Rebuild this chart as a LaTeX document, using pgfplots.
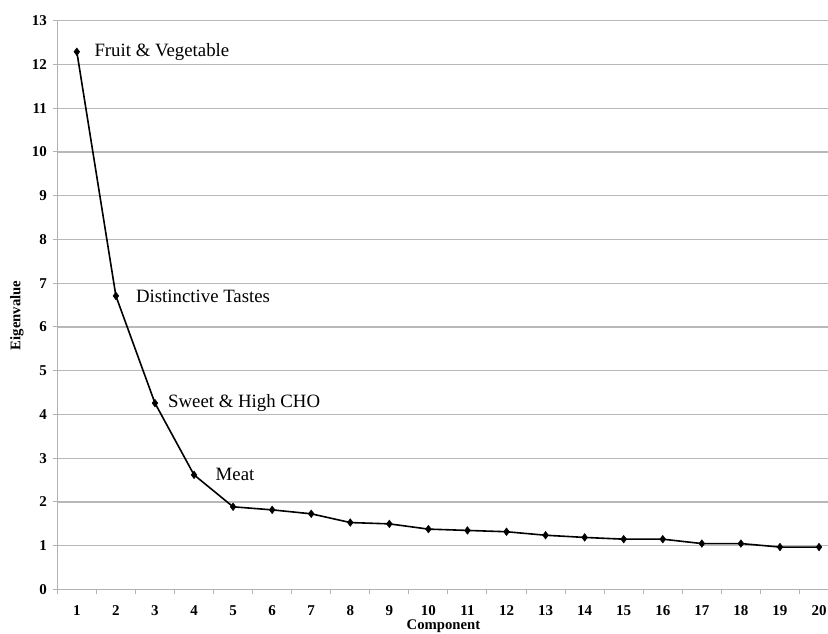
\documentclass[border=0pt]{standalone}
\usepackage{pgfplots}
\pgfplotsset{compat=1.18}
\usepackage{fontspec}
\setmainfont{Liberation Serif}
\begin{document}
\begin{tikzpicture}
\begin{axis}[
  at={(0,0)}, anchor=south west,
  scale only axis, width=770.7pt, height=568.8pt,
  xmin=0.5, xmax=20.23, ymin=0, ymax=13,
  clip=false,
  xtick={1,...,20}, ytick={0,...,13},
  minor xtick={0.5,1.5,...,19.5},
  axis x line*=bottom, axis y line*=left,
  axis line style={draw=black!30, line width=1.2pt, -},
  ymajorgrids, grid style={draw=black!28, line width=1.2pt},
  tick align=outside, major tick length=4pt, minor tick length=5pt,
  tick style={draw=black!30, line width=1pt},
  major x tick style={draw=none},
  /pgf/number format/assume math mode=true,
  ticklabel style={font=\fontsize{15}{16}\selectfont\bfseries},
  yticklabel style={xshift=-3pt},
  xticklabel style={anchor=base, yshift=-22pt},
  label style={font=\fontsize{14.7}{16}\selectfont\bfseries},
  xlabel={Component}, ylabel={Eigenvalue},
  xlabel style={at={(axis description cs:0.501,0)}, anchor=center, yshift=-36.5pt},
  ylabel style={at={(axis description cs:0,0.482)}, anchor=center, yshift=40.3pt},
]
\addplot[black, line width=1.6pt, mark=diamond*, mark size=3.8pt, mark options={solid, line width=0.5pt}] coordinates {
(1,12.29) (2,6.71) (3,4.26) (4,2.62) (5,1.89) (6,1.82) (7,1.73) (8,1.53)
(9,1.50) (10,1.38) (11,1.35) (12,1.32) (13,1.24) (14,1.19) (15,1.15)
(16,1.15) (17,1.05) (18,1.05) (19,0.97) (20,0.97)};
\node[anchor=west, inner sep=0pt, font=\fontsize{18.8}{20}\selectfont] at (axis cs:1,12.29) [xshift=17.5pt] {Fruit \& Vegetable};
\node[anchor=west, inner sep=0pt, font=\fontsize{18.8}{20}\selectfont] at (axis cs:2,6.71) [xshift=20pt] {Distinctive Tastes};
\node[anchor=west, inner sep=0pt, font=\fontsize{18.8}{20}\selectfont] at (axis cs:3,4.26) [xshift=13pt] {Sweet \& High CHO};
\node[anchor=west, inner sep=0pt, font=\fontsize{18.8}{20}\selectfont] at (axis cs:4,2.62) [xshift=21.5pt] {Meat};
\end{axis}
\pgfresetboundingbox
\path[use as bounding box] (-57.3pt,-44.5pt) rectangle (770.7pt,589.5pt);
\end{tikzpicture}
\end{document}
